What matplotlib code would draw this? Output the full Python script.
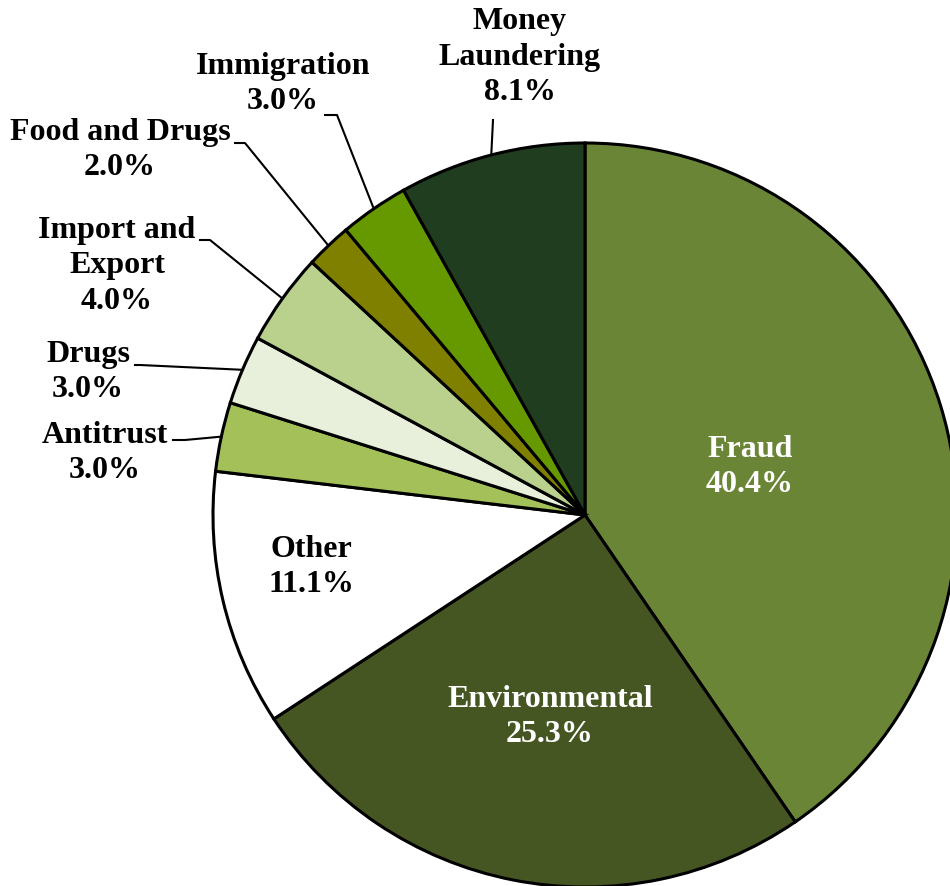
import numpy as np
import matplotlib.pyplot as plt

categories = ['Fraud', 'Environmental', 'Other', 'Antitrust', 'Drugs',
              'Import and\nExport', 'Food and Drugs', 'Immigration',
              'Money\nLaundering']
shares = [40.4, 25.3, 11.1, 3.0, 3.0, 4.0, 2.0, 3.0, 8.1]
colors = ['#6B8536', '#465622', '#FFFFFF', '#A3C158', '#E8F0DC',
          '#B9D18C', '#808000', '#669900', '#213D20']

W, H = 950, 886
cx, cy, R = 585, 515, 372


def px(x, y):
    # pixel position -> data coords (pie radius = 1)
    return (x - cx) / R, (cy - y) / R


fig = plt.figure(figsize=(W / 100, H / 100), dpi=100)
ax = fig.add_axes([0, 0, 1, 1])

wedges, _ = ax.pie(shares, colors=colors, startangle=90, counterclock=False,
                   radius=1, center=(0, 0),
                   wedgeprops=dict(edgecolor='black', linewidth=2.2))

ax.set_xlim(-cx / R, (W - cx) / R)
ax.set_ylim(-(H - cy) / R, cy / R)
ax.set_aspect('equal')
ax.axis('off')

font = dict(family='Liberation Serif', fontweight='bold', fontsize=23)

# inside labels: text center in pixels and colour
inside = {0: ((750, 467), 'white'),
          1: ((550, 717), 'white'),
          2: ((311, 567), 'black')}
for i, ((x, y), c) in inside.items():
    ax.text(*px(x, y), f'{categories[i]}\n{shares[i]:.1f}%', color=c,
            ha='center', va='center', linespacing=1.3, **font)

# outside labels: text center, leader start, stub end (pixels)
outside = {3: ((105, 453), (173, 440), (185, 440)),
           4: ((88, 372), (135, 365), (140, 365)),
           5: ((117, 266), (200, 240), (210, 240)),
           6: ((120, 150), (235, 143), (245, 143)),
           7: ((283, 84), (325, 115), (337, 115)),
           8: ((520, 57), (493, 120), (493, 120))}
for i, (tpos, start, stub) in outside.items():
    w = wedges[i]
    mid = np.deg2rad((w.theta1 + w.theta2) / 2)
    ex, ey = np.cos(mid), np.sin(mid)
    ax.text(*px(*tpos), f'{categories[i]}\n{shares[i]:.1f}%', color='black',
            ha='center', va='center', linespacing=1.3, **font)
    p0, p1 = px(*start), px(*stub)
    ax.plot([p0[0], p1[0], ex], [p0[1], p1[1], ey], color='black', lw=1.5)

fig.savefig('out.png', dpi=100)
